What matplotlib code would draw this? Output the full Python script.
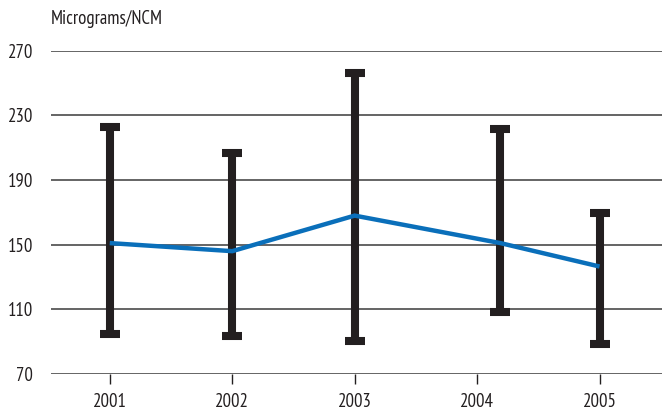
import matplotlib
matplotlib.use('Agg')
import matplotlib.pyplot as plt

plt.rcParams['font.family'] = ['PT Sans Narrow', 'DejaVu Sans']
plt.rcParams['font.stretch'] = 'condensed'

# yearly mean concentration with low / high range
years = [2001, 2002, 2003, 2004, 2005]
x_pos = [2001, 2002, 2003, 2004.19, 2005]
mean_val = [151, 146, 168, 151, 136.5]
low_val = [95, 93.5, 90.5, 108.5, 88.5]
high_val = [223, 207, 256.5, 221.5, 169.5]
y_ticks = [70, 110, 150, 190, 230, 270]

err_lo = [m - lo for m, lo in zip(mean_val, low_val)]
err_hi = [hi - m for m, hi in zip(mean_val, high_val)]

fig = plt.figure(figsize=(6.62, 4.13), dpi=100)
ax = fig.add_axes([0.077, 0.0944, 0.923, 0.7828])

# grid lines
for v in y_ticks:
    ax.axhline(v, color='#3a3a3a', lw=1.1, zorder=1)

# range bars
ax.errorbar(x_pos, mean_val, yerr=[err_lo, err_hi], fmt='none',
            ecolor='#231f20', elinewidth=5.8, capsize=7.5, capthick=5.8,
            zorder=2)

# mean line
ax.plot(x_pos, mean_val, color='#0a6fba', lw=3.2, zorder=3,
        solid_capstyle='butt', solid_joinstyle='miter')

ax.set_xlim(2000.52, 2005.51)
ax.set_ylim(70, 270)
ax.set_xticks(years)
ax.set_xticklabels([str(y) for y in years])
ax.set_yticks(y_ticks)
ax.tick_params(axis='y', length=0, pad=13, labelsize=13.5, labelcolor='#231f20')
ax.tick_params(axis='x', length=7, width=1, color='#231f20', pad=7,
               labelsize=13.5, labelcolor='#231f20')
for s in ax.spines.values():
    s.set_visible(False)

fig.text(0.077, 0.953, 'Micrograms/NCM', fontsize=13.5, ha='left',
         va='center', color='#231f20')

fig.savefig('out.png', dpi=100)
